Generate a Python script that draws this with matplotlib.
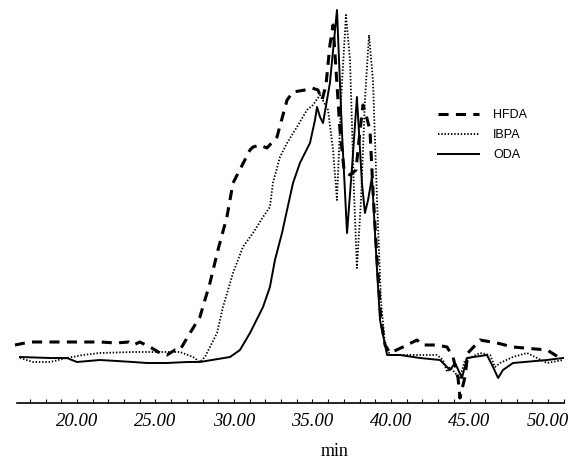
import numpy as np
import matplotlib.pyplot as plt
from matplotlib.ticker import FixedLocator, FormatStrFormatter

# retention time (min) and detector signal (arbitrary units)
hfda_t = [16.05, 17.01, 18.5, 20.0, 21.5, 22.5, 23.3, 23.6, 24.0, 24.65, 25.29, 25.73,
          26.24, 26.56, 27.20, 27.83, 28.47, 28.98, 29.55, 29.94, 31.02, 31.21, 31.66,
          32.10, 32.74, 33.38, 33.76, 34.52, 34.97, 35.35, 35.61, 35.86, 36.11, 36.31,
          36.50, 36.75, 37.01, 37.39, 37.77, 38.03, 38.22, 38.41, 38.66, 38.85, 39.11,
          39.36, 39.62, 39.94, 40.76, 41.66, 41.97, 42.93, 43.57, 43.95, 44.27, 44.39,
          44.71, 44.90, 45.67, 46.75, 47.77, 49.94, 50.96]
hfda_s = [58, 61, 61, 61, 61, 60, 61, 58, 61, 56, 50, 48,
          53, 53, 70, 86, 120, 153, 186, 220, 253, 256, 258,
          255, 266, 303, 311, 313, 315, 313, 303, 318, 358, 378,
          333, 273, 233, 228, 233, 273, 298, 288, 273, 213, 143,
          83, 58, 50, 56, 63, 58, 58, 56, 46, 25, 5,
          26, 50, 63, 60, 56, 53, 43]

ibpa_t = [16.37, 17.20, 18.28, 19.36, 20.38, 21.46, 23.57, 25.29, 26.56, 27.39, 27.83,
          28.15, 28.92, 29.30, 29.94, 30.57, 31.21, 31.85, 32.29, 32.48, 32.93, 33.38,
          34.01, 34.65, 35.03, 35.48, 35.99, 36.31, 36.56, 36.82, 37.13, 37.39, 37.64,
          37.83, 38.09, 38.34, 38.60, 38.85, 39.11, 39.36, 39.62, 39.94, 41.40, 42.93,
          43.31, 43.57, 43.76, 44.08, 44.39, 44.71, 45.67, 46.31, 46.62, 46.94, 47.77,
          48.66, 49.94, 50.96]
ibpa_s = [45, 41, 41, 45, 48, 50, 51, 51, 51, 46, 41,
          46, 70, 96, 130, 156, 170, 186, 196, 220, 246, 260,
          276, 293, 298, 308, 293, 253, 203, 303, 388, 343, 213,
          135, 203, 303, 368, 323, 203, 103, 58, 48, 48, 48,
          43, 31, 36, 30, 25, 43, 50, 48, 36, 40, 46,
          50, 40, 43]

oda_t = [16.37, 18.28, 19.36, 20.0, 21.46, 22.55, 23.57, 24.46, 25.73, 27.01, 27.83,
         29.75, 30.38, 31.02, 31.85, 32.29, 32.61, 33.06, 33.38, 33.76, 34.20, 34.84,
         35.16, 35.29, 35.48, 35.67, 36.11, 36.56, 36.88, 37.20, 37.52, 37.83, 38.15,
         38.34, 38.54, 38.79, 39.11, 39.30, 39.75, 40.57, 41.85, 43.12, 43.76, 44.08,
         44.52, 44.84, 46.11, 46.50, 46.82, 47.13, 47.77, 49.94, 50.96]
oda_s = [46, 45, 45, 41, 43, 42, 41, 40, 40, 41, 41,
         46, 53, 70, 96, 116, 143, 170, 193, 220, 240, 260,
         283, 296, 286, 280, 320, 393, 270, 170, 236, 306, 220,
         190, 203, 226, 133, 83, 48, 48, 45, 43, 33, 40,
         25, 45, 48, 36, 25, 33, 40, 43, 45]

major_ticks = [20, 25, 30, 35, 40, 45, 50]
minor_ticks = list(range(17, 52))

fig = plt.figure(figsize=(5.81, 4.62), dpi=100)
ax = fig.add_axes([0, 59 / 462, 1, 403 / 462])

ax.plot(hfda_t, hfda_s, color='black', lw=2.2, ls=(0, (3.3, 2.4)), label='HFDA')
ax.plot(ibpa_t, ibpa_s, color='black', lw=1.3, ls=(0, (0.8, 1.0)), label='IBPA')
ax.plot(oda_t, oda_s, color='black', lw=1.4, ls='-', label='ODA')

ax.set_xlim(15.10, 52.10)
ax.set_ylim(0, 403)

for side in ['top', 'left', 'right']:
    ax.spines[side].set_visible(False)
ax.spines['bottom'].set_bounds(16.2, 51.0)
ax.spines['bottom'].set_linewidth(1.2)
ax.set_yticks([])

ax.xaxis.set_major_locator(FixedLocator(major_ticks))
ax.xaxis.set_minor_locator(FixedLocator(minor_ticks))
ax.xaxis.set_major_formatter(FormatStrFormatter('%.2f'))
ax.tick_params(axis='x', which='both', direction='in', length=3, width=0.8, pad=7)
for lab in ax.get_xticklabels():
    lab.set_fontfamily('Liberation Serif')
    lab.set_fontstyle('italic')
    lab.set_fontsize(13.5)

fig.text(335 / 581, 1 - 452 / 462, 'min', ha='center', va='center',
         family='Liberation Serif', fontsize=13)

leg = ax.legend(loc='upper left', bbox_to_anchor=(438 / 581, 1 - 109 / 462),
                bbox_transform=fig.transFigure, frameon=False,
                prop={'family': 'Liberation Sans', 'size': 9},
                handlelength=3.3, handletextpad=1.1, labelspacing=0.65,
                borderpad=0, borderaxespad=0)

fig.savefig('out.png', dpi=100)
